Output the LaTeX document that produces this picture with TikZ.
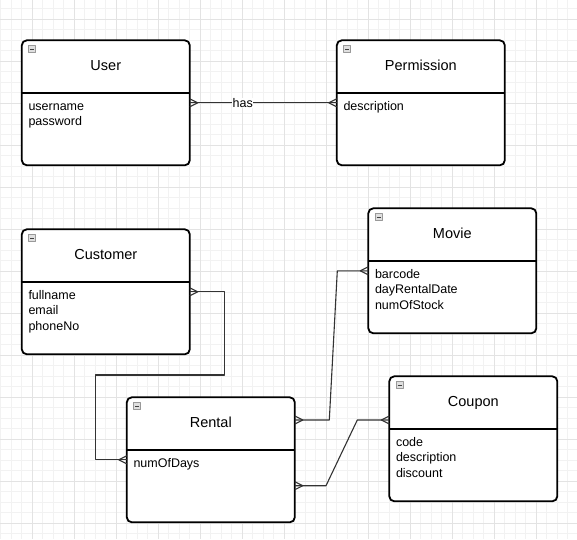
\documentclass[tikz,border=0pt]{standalone}
\usepackage{fontspec}
\setmainfont{Liberation Sans}

\begin{document}
\begin{tikzpicture}[x=1pt, y=-1pt, line join=round]
  \tikzstyle{entity}=[draw=black, line width=1.8pt, rounded corners=5pt, fill=white, minimum width=168pt, minimum height=125pt, anchor=north west, outer sep=0pt, inner sep=0pt]
  \tikzstyle{divider}=[draw=black, line width=1.8pt]
  \tikzstyle{etitle}=[font=\fontsize{14.5}{17}\selectfont, anchor=base, inner sep=0pt]
  \tikzstyle{eattr}=[font=\fontsize{12.5}{15.3}\selectfont, anchor=north west, align=left, inner sep=0pt]
  \tikzstyle{toggle}=[draw=gray!80, fill=gray!25, line width=0.6pt, minimum size=7pt, inner sep=0pt]
  \tikzstyle{link}=[draw=black!80, line width=1.1pt]
  \tikzstyle{minorline}=[draw=black!5, line width=0.8pt]
  \tikzstyle{majorline}=[draw=black!11, line width=0.8pt]
  \tikzset{many/.pic={\draw[link] (0,-4) -- (8,0) -- (0,4);}}

  \useasboundingbox (0,0) rectangle (577,539);
  \fill[white] (0,0) rectangle (577,539);
  \foreach \i in {0,...,54} \draw[minorline] ({0.8+10.5*\i},0) -- ({0.8+10.5*\i},539);
  \foreach \j in {0,...,50} \draw[minorline] (0,{8.8+10.5*\j}) -- (577,{8.8+10.5*\j});
  \foreach \i in {0,...,12} \draw[majorline] ({32.3+42*\i},0) -- ({32.3+42*\i},539);
  \foreach \j in {0,...,12} \draw[majorline] (0,{19.3+42*\j}) -- (577,{19.3+42*\j});

  \foreach \n/\x/\y/\t/\a in {
      user/21.8/40.3/User/{username\\password},
      perm/336.8/40.3/Permission/{description},
      cust/21.8/229.3/Customer/{fullname\\email\\phoneNo},
      movie/368.3/208.3/Movie/{barcode\\dayRentalDate\\numOfStock},
      coupon/389.3/376.3/Coupon/{code\\description\\discount},
      rental/126.8/397.3/Rental/{numOfDays}}
  {
    \node[entity] (\n) at (\x,\y) {};
    \draw[divider] ([yshift=-52.5pt]\n.north west) -- ([yshift=-52.5pt]\n.north east);
    \node[etitle] (\n title) at ([yshift=-30.2pt]\n.north) {\t};
    \node[eattr] (\n attr) at ([shift={(6.5pt,-60.5pt)}]\n.north west) {\rule{0pt}{9.5pt}\a};
    \node[toggle] (\n toggle) at ([shift={(10.4pt,-8.9pt)}]\n.north west) {\color{black!75}\rule{4pt}{0.9pt}};
  }

  \draw[link] (user.east) -- node[pos=0.36, fill=white, inner sep=0.5pt, font=\fontsize{12.5}{15}\selectfont] {has} (perm.west);
  \draw[link] (cust.east) -| (224.3,375) -- (95.7,375) |- (rental.west);
  \draw[link] ([yshift=-22.7pt]rental.north east) -- (329.3,420) -- (337.3,270.8) -- (movie.west);
  \draw[link] ([yshift=-88.4pt]rental.north east) -- (326,485.7) -- (357.3,420) -- ([yshift=-43.7pt]coupon.north west);

  \pic at (user.east) {many};
  \pic[rotate=180] at (perm.west) {many};
  \pic at (cust.east) {many};
  \pic[rotate=180] at (rental.west) {many};
  \pic at ([yshift=-22.7pt]rental.north east) {many};
  \pic[rotate=180] at (movie.west) {many};
  \pic at ([yshift=-88.4pt]rental.north east) {many};
  \pic[rotate=180] at ([yshift=-43.7pt]coupon.north west) {many};
\end{tikzpicture}
\end{document}
